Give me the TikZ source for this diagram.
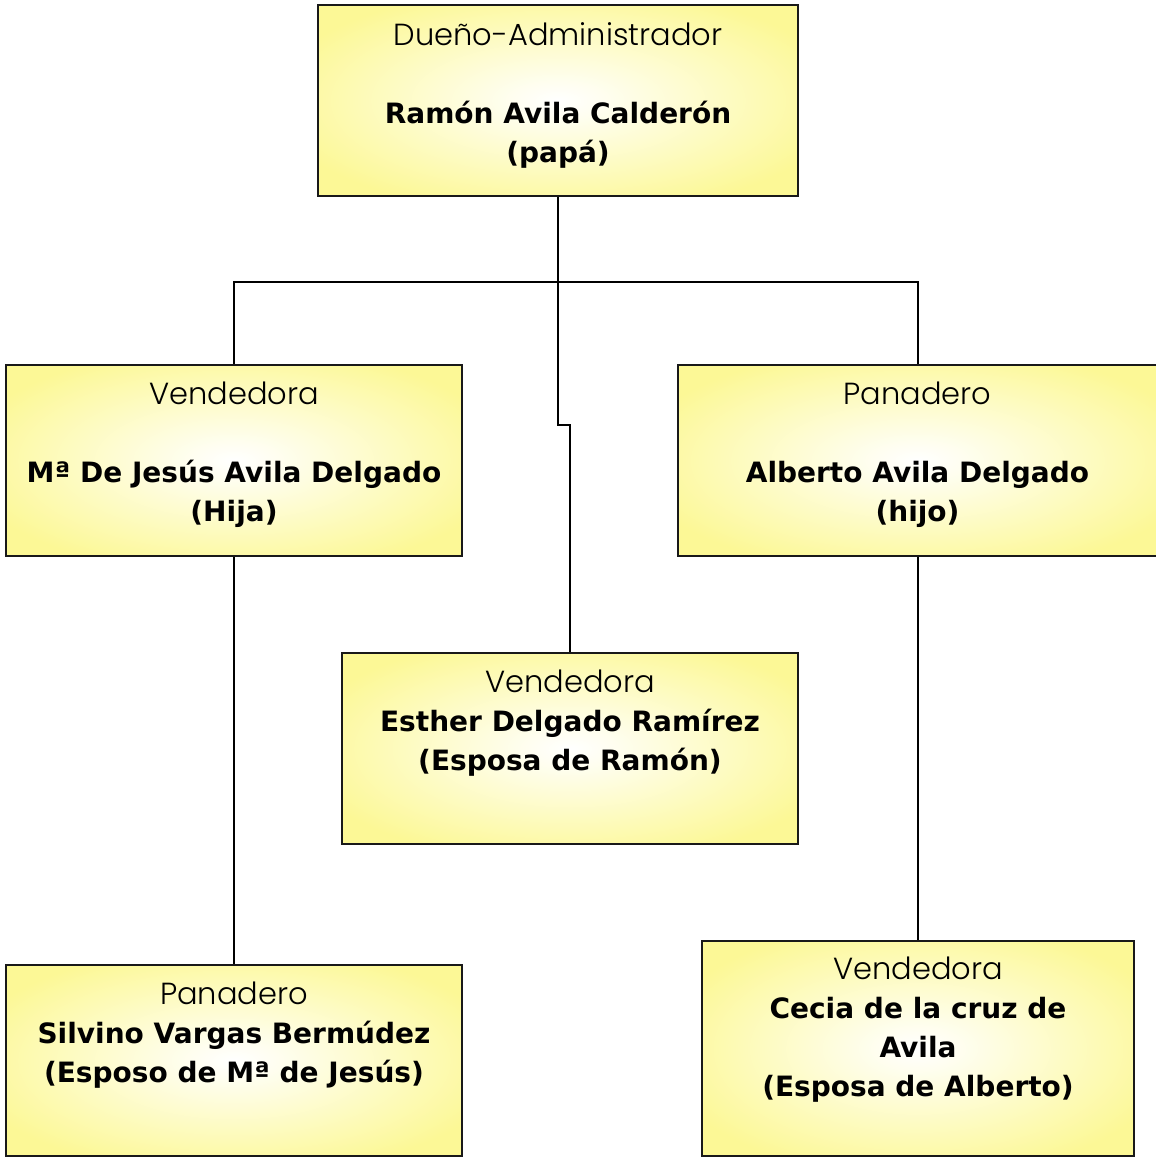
\documentclass[tikz,border=0pt]{standalone}
\usepackage{fontspec}
\setmainfont{DejaVu Sans}
\newfontfamily\rolefont{Poppins Light}
\newfontfamily\namefont{DejaVu Sans}
\definecolor{boxyellow}{RGB}{252,248,150}
\definecolor{boxline}{RGB}{25,25,25}
\pgfdeclareradialshading{boxglow}{\pgfpoint{0bp}{0bp}}{%
  color(0bp)=(white); color(5bp)=(white!85!boxyellow);
  color(30bp)=(boxyellow); color(50bp)=(boxyellow)}
\tikzset{
  memberbox/.style={draw=boxline, line width=2pt, shading=boxglow,
    inner sep=0pt, anchor=north west},
  boxtext/.style={anchor=north, inner sep=0pt, align=center,
    font=\fontsize{28}{39}\selectfont},
  link/.style={draw=black, line width=2pt}
}
\newcommand{\who}[1]{{\namefont\bfseries #1}}
\newcommand{\cargo}[1]{{\rolefont\fontsize{30.5}{39}\selectfont #1}}
\begin{document}
\begin{tikzpicture}[x=1pt, y=-1pt]
\useasboundingbox (0,0) rectangle (1156,1157);

% boxes
\node[memberbox, minimum width=480pt, minimum height=191pt] (jefe) at (317,4) {};
\node[memberbox, minimum width=456pt, minimum height=191pt] (hija) at (5,364) {};
\node[memberbox, minimum width=479pt, minimum height=191pt] (hijo) at (677,364) {};
\node[memberbox, minimum width=456pt, minimum height=191pt] (esposa) at (341,652) {};
\node[memberbox, minimum width=456pt, minimum height=191pt] (yerno) at (5,964) {};
\node[memberbox, minimum width=432pt, minimum height=215pt] (nuera) at (701,940) {};

% texts
\node[boxtext] (tjefe) at ([yshift=-18pt]jefe.north)
  {\cargo{Dueño-Administrador}\\[39pt]\who{Ramón Avila Calderón}\\\who{(papá)}};
\node[boxtext] (thija) at ([yshift=-18pt]hija.north)
  {\cargo{Vendedora}\\[39pt]\who{Mª De Jesús Avila Delgado}\\\who{(Hija)}};
\node[boxtext] (thijo) at ([yshift=-18pt]hijo.north)
  {\cargo{Panadero}\\[39pt]\who{Alberto Avila Delgado}\\\who{(hijo)}};
\node[boxtext] (tesposa) at ([yshift=-18pt]esposa.north)
  {\cargo{Vendedora}\\\who{Esther Delgado Ramírez}\\\who{(Esposa de Ramón)}};
\node[boxtext] (tyerno) at ([yshift=-18pt]yerno.north)
  {\cargo{Panadero}\\\who{Silvino Vargas Bermúdez}\\\who{(Esposo de Mª de Jesús)}};
\node[boxtext] (tnuera) at ([yshift=-17pt]nuera.north)
  {\cargo{Vendedora}\\\who{Cecia de la cruz de}\\\who{Avila}\\\who{(Esposa de Alberto)}};

% connectors
\coordinate (bus) at ([yshift=-85pt]jefe.south);
\coordinate (jog) at ([yshift=-228pt]jefe.south);
\draw[link] (jefe.south) -- (bus);
\draw[link] (hija.north) |- (bus) -| (hijo.north);
\draw[link] (bus) -- (jog) -| (esposa.north);
\draw[link] (hija.south) -- (yerno.north);
\draw[link] (hijo.south) -- (hijo.south |- nuera.north);
\end{tikzpicture}
\end{document}
